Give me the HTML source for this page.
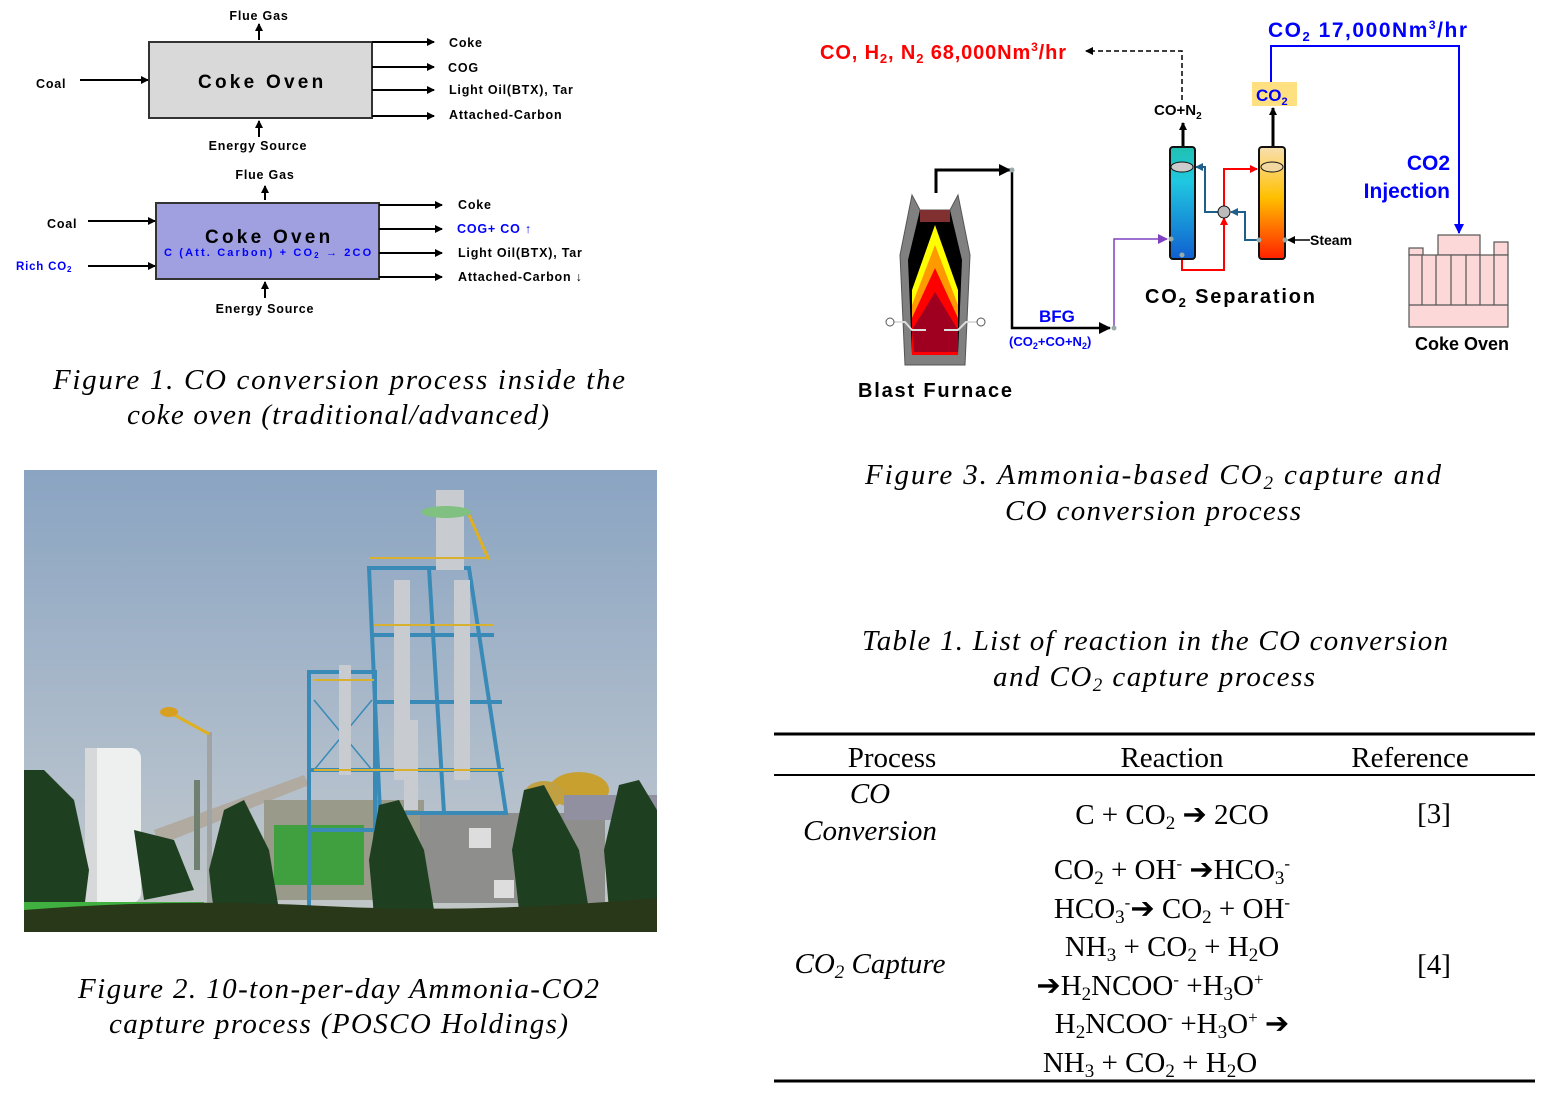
<!DOCTYPE html>
<html><head><meta charset="utf-8"><style>
html,body{margin:0;padding:0;background:#fff;}
body{width:1545px;height:1098px;position:relative;overflow:hidden;}
svg{position:absolute;left:0;top:0;}
.s{font-family:"Liberation Sans",sans-serif;font-weight:bold;}
.t{font-family:"Liberation Serif",serif;}
</style></head><body>
<svg width="1545" height="1098" viewBox="0 0 1545 1098">
<defs>
<marker id="a" markerWidth="8" markerHeight="8" refX="7" refY="4" orient="auto" markerUnits="userSpaceOnUse"><path d="M0,0 L8,4 L0,8 z" fill="#000"/></marker>
<marker id="ab" markerWidth="10" markerHeight="10" refX="9" refY="5" orient="auto" markerUnits="userSpaceOnUse"><path d="M0,0 L10,5 L0,10 z" fill="#00f"/></marker>
<marker id="ak" markerWidth="12" markerHeight="12" refX="11" refY="6" orient="auto" markerUnits="userSpaceOnUse"><path d="M0,0 L12,6 L0,12 z" fill="#000"/></marker>
<marker id="ap" markerWidth="10" markerHeight="10" refX="9" refY="5" orient="auto" markerUnits="userSpaceOnUse"><path d="M0,0 L10,5 L0,10 z" fill="#8040c0"/></marker>
<marker id="ar" markerWidth="8" markerHeight="8" refX="7" refY="4" orient="auto" markerUnits="userSpaceOnUse"><path d="M0,0 L8,4 L0,8 z" fill="#f00"/></marker>
<marker id="ad" markerWidth="8" markerHeight="8" refX="7" refY="4" orient="auto" markerUnits="userSpaceOnUse"><path d="M0,0 L8,4 L0,8 z" fill="#1f5f8b"/></marker>
<linearGradient id="c1" x1="0" y1="0" x2="0" y2="1"><stop offset="0" stop-color="#20c0b0"/><stop offset=".3" stop-color="#20c8e0"/><stop offset="1" stop-color="#1060d0"/></linearGradient>
<linearGradient id="c2" x1="0" y1="0" x2="0" y2="1"><stop offset="0" stop-color="#f8e0b0"/><stop offset=".45" stop-color="#ffc000"/><stop offset="1" stop-color="#ff2000"/></linearGradient>
<linearGradient id="sky" x1="0" y1="0" x2="0" y2="1"><stop offset="0" stop-color="#8aa4c2"/><stop offset=".7" stop-color="#b4c0cc"/><stop offset="1" stop-color="#c4c8c6"/></linearGradient>
</defs>

<!-- Figure 1 top -->
<g class="s" font-size="12.5" letter-spacing="0.8">
<rect x="149" y="42" width="223" height="76" fill="#d9d9d9" stroke="#333" stroke-width="2"/>
<text x="198" y="88" font-size="19" textLength="126" lengthAdjust="spacing">Coke Oven</text>
<text x="259" y="20" text-anchor="middle">Flue Gas</text>
<line x1="259" y1="40" x2="259" y2="24" stroke="#000" stroke-width="2" marker-end="url(#a)"/>
<text x="36" y="88">Coal</text>
<line x1="80" y1="80" x2="148" y2="80" stroke="#000" stroke-width="2" marker-end="url(#a)"/>
<line x1="372" y1="42" x2="434" y2="42" stroke="#000" stroke-width="2" marker-end="url(#a)"/>
<line x1="372" y1="67" x2="434" y2="67" stroke="#000" stroke-width="2" marker-end="url(#a)"/>
<line x1="372" y1="90" x2="434" y2="90" stroke="#000" stroke-width="2" marker-end="url(#a)"/>
<line x1="372" y1="116" x2="434" y2="116" stroke="#000" stroke-width="2" marker-end="url(#a)"/>
<text x="449" y="47">Coke</text><text x="448" y="72">COG</text>
<text x="449" y="94">Light Oil(BTX), Tar</text><text x="449" y="119">Attached-Carbon</text>
<line x1="259" y1="137" x2="259" y2="121" stroke="#000" stroke-width="2" marker-end="url(#a)"/>
<text x="258" y="150" text-anchor="middle">Energy Source</text>
</g>
<!-- Figure 1 bottom -->
<g class="s" font-size="12.5" letter-spacing="0.8">
<rect x="156" y="203" width="223" height="76" fill="#a0a0e0" stroke="#333" stroke-width="2"/>
<text x="205" y="243" font-size="19" textLength="126" lengthAdjust="spacing">Coke Oven</text>
<text x="164" y="256" font-size="11" fill="#00f" textLength="208" lengthAdjust="spacing">C (Att. Carbon) + CO<tspan font-size="8" dy="2">2</tspan><tspan dy="-2"> → 2CO</tspan></text>
<text x="265" y="179" text-anchor="middle">Flue Gas</text>
<line x1="265" y1="200" x2="265" y2="186" stroke="#000" stroke-width="2" marker-end="url(#a)"/>
<text x="47" y="228">Coal</text>
<line x1="88" y1="221" x2="155" y2="221" stroke="#000" stroke-width="2" marker-end="url(#a)"/>
<text x="16" y="270" fill="#00f" font-size="11.5">Rich CO<tspan font-size="8" dy="2">2</tspan></text>
<line x1="88" y1="266" x2="155" y2="266" stroke="#000" stroke-width="2" marker-end="url(#a)"/>
<line x1="379" y1="205" x2="442" y2="205" stroke="#000" stroke-width="2" marker-end="url(#a)"/>
<line x1="379" y1="229" x2="442" y2="229" stroke="#000" stroke-width="2" marker-end="url(#a)"/>
<line x1="379" y1="253" x2="442" y2="253" stroke="#000" stroke-width="2" marker-end="url(#a)"/>
<line x1="379" y1="277" x2="442" y2="277" stroke="#000" stroke-width="2" marker-end="url(#a)"/>
<text x="458" y="209">Coke</text><text x="457" y="233" fill="#00f">COG+ CO ↑</text>
<text x="458" y="257">Light Oil(BTX), Tar</text><text x="458" y="281">Attached-Carbon ↓</text>
<line x1="265" y1="298" x2="265" y2="282" stroke="#000" stroke-width="2" marker-end="url(#a)"/>
<text x="265" y="313" text-anchor="middle">Energy Source</text>
</g>
<g class="t" font-size="29" font-style="italic">
<text x="53" y="389" textLength="572" lengthAdjust="spacing">Figure 1.   CO conversion process inside the</text>
<text x="127" y="424" textLength="422" lengthAdjust="spacing">coke oven (traditional/advanced)</text>
<text x="78" y="998" textLength="521" lengthAdjust="spacing">Figure 2. 10-ton-per-day Ammonia-CO2</text>
<text x="109" y="1033" textLength="459" lengthAdjust="spacing">capture process (POSCO Holdings)</text>
<text x="865" y="484" textLength="576" lengthAdjust="spacing">Figure 3.   Ammonia-based CO<tspan font-size="19" dy="5">2</tspan><tspan dy="-5"> capture and</tspan></text>
<text x="1005" y="520" textLength="296" lengthAdjust="spacing">CO conversion process</text>
<text x="862" y="650" textLength="586" lengthAdjust="spacing">Table 1. List of reaction in the CO conversion</text>
<text x="993" y="686" textLength="322" lengthAdjust="spacing">and CO<tspan font-size="19" dy="5">2</tspan><tspan dy="-5"> capture process</tspan></text>
</g>

<!-- Photo -->
<svg x="24" y="470" width="633" height="462" viewBox="0 0 633 462">
<rect width="633" height="462" fill="url(#sky)"/>
<polygon points="130,360 280,305 285,315 135,375" fill="#b0aaa0"/>
<rect x="170" y="310" width="6" height="90" fill="#708070"/>
<rect x="240" y="330" width="160" height="100" fill="#9a9a8a"/>
<rect x="250" y="355" width="90" height="60" fill="#40a040"/>
<rect x="396" y="343" width="185" height="90" fill="#8e8e8c"/>
<rect x="445" y="358" width="22" height="20" fill="#ddd"/>
<rect x="470" y="410" width="20" height="18" fill="#ddd"/>
<ellipse cx="555" cy="320" rx="30" ry="18" fill="#c8a030"/>
<ellipse cx="520" cy="325" rx="20" ry="14" fill="#c0a040"/>
<rect x="540" y="325" width="93" height="25" fill="#9090a0"/>
<g stroke="#3a8ab8" stroke-width="4" fill="none">
<rect x="285" y="202" width="66" height="240"/>
<polygon points="345,98 445,98 482,343 356,343"/>
<line x1="405" y1="98" x2="420" y2="343"/>
<line x1="350" y1="165" x2="470" y2="165"/>
<line x1="352" y1="232" x2="478" y2="232"/>
<line x1="354" y1="300" x2="480" y2="300"/>
<line x1="285" y1="300" x2="351" y2="300"/>
<line x1="285" y1="360" x2="351" y2="360"/>
</g>
<g stroke="#3a8ab8" stroke-width="1.5"><line x1="290" y1="230" x2="348" y2="300"/><line x1="348" y1="230" x2="290" y2="300"/></g>
<g fill="#c8ccd0">
<rect x="412" y="20" width="28" height="80"/>
<rect x="370" y="110" width="16" height="200"/>
<rect x="430" y="110" width="16" height="200"/>
<rect x="315" y="195" width="12" height="110"/>
<rect x="380" y="250" width="14" height="90"/>
</g>
<ellipse cx="422" cy="42" rx="25" ry="6" fill="#80c080"/>
<line x1="445" y1="45" x2="465" y2="90" stroke="#e0b020" stroke-width="3"/>
<g stroke="#d8b030" stroke-width="2"><line x1="345" y1="88" x2="465" y2="88"/><line x1="290" y1="210" x2="350" y2="210"/><line x1="350" y1="155" x2="470" y2="155"/><line x1="290" y1="300" x2="480" y2="300"/></g>
<rect x="61" y="278" width="56" height="155" rx="10" fill="#eef0f0"/>
<rect x="61" y="278" width="12" height="155" fill="#d6d8da"/>
<rect x="183" y="262" width="5" height="200" fill="#a0a4a4"/>
<line x1="185" y1="264" x2="145" y2="242" stroke="#e0b020" stroke-width="3"/>
<ellipse cx="145" cy="242" rx="9" ry="5" fill="#d8a020"/>
<g fill="#1e4020">
<path d="M0,300 L20,300 L50,330 L65,400 L60,440 L0,440 z"/>
<path d="M200,340 L220,330 L245,380 L255,440 L190,445 L185,400 z"/>
<path d="M355,335 L375,330 L400,380 L410,440 L350,445 L345,390 z"/>
<path d="M500,320 L520,315 L555,380 L565,440 L495,440 L488,380 z"/>
<path d="M595,315 L615,310 L633,340 L633,440 L585,440 L580,380 z"/>
<path d="M110,360 L150,370 L170,420 L120,430 z"/>
</g>
<rect x="0" y="432" width="180" height="10" fill="#40b040"/>
<path d="M0,440 Q150,428 300,436 T633,428 L633,462 L0,462 z" fill="#283818"/>
</svg>

<!-- Figure 3 -->
<g class="s">
<text x="820" y="59" font-size="20" fill="#f00" textLength="246" lengthAdjust="spacing">CO, H<tspan font-size="13" dy="4">2</tspan><tspan dy="-4">, N</tspan><tspan font-size="13" dy="4">2</tspan><tspan dy="-4"> 68,000Nm</tspan><tspan font-size="12" dy="-8">3</tspan><tspan dy="8">/hr</tspan></text>
<text x="1268" y="37" font-size="21" fill="#00f" textLength="199" lengthAdjust="spacing">CO<tspan font-size="13" dy="4">2</tspan><tspan dy="-4"> 17,000Nm</tspan><tspan font-size="12" dy="-8">3</tspan><tspan dy="8">/hr</tspan></text>
<text x="1450" y="170" font-size="21" fill="#00f" text-anchor="end">CO2</text>
<text x="1450" y="198" font-size="21" fill="#00f" text-anchor="end">Injection</text>
<rect x="1252" y="82" width="45" height="24" fill="#ffe080"/>
<text x="1256" y="101" font-size="17" fill="#00f">CO<tspan font-size="11" dy="4">2</tspan></text>
<text x="1154" y="115" font-size="15">CO+N<tspan font-size="10" dy="4">2</tspan></text>
<text x="1310" y="245" font-size="14">Steam</text>
<text x="1145" y="303" font-size="20" textLength="170" lengthAdjust="spacing">CO<tspan font-size="13" dy="4">2</tspan><tspan dy="-4"> Separation</tspan></text>
<text x="1039" y="322" font-size="17" fill="#00f">BFG</text>
<text x="1009" y="346" font-size="13" fill="#00f">(CO<tspan font-size="9" dy="3">2</tspan><tspan dy="-3">+CO+N</tspan><tspan font-size="9" dy="3">2</tspan><tspan dy="-3">)</tspan></text>
<text x="858" y="397" font-size="20" textLength="154" lengthAdjust="spacing">Blast Furnace</text>
<text x="1462" y="350" font-size="18" text-anchor="middle">Coke Oven</text>
</g>
<polyline points="1182,100 1182,51 1086,51" fill="none" stroke="#000" stroke-width="1.5" stroke-dasharray="5,3" marker-end="url(#a)"/>
<polyline points="1271,82 1271,46 1459,46 1459,233" fill="none" stroke="#00f" stroke-width="2" marker-end="url(#ab)"/>
<line x1="1183" y1="147" x2="1183" y2="123" stroke="#000" stroke-width="3" marker-end="url(#a)"/>
<line x1="1273" y1="147" x2="1273" y2="108" stroke="#000" stroke-width="3" marker-end="url(#a)"/>
<polyline points="936,193 936,170 1010,170" fill="none" stroke="#000" stroke-width="3" marker-end="url(#ak)"/>
<polyline points="1012,170 1012,328 1110,328" fill="none" stroke="#000" stroke-width="2.5" marker-end="url(#ak)"/>
<polyline points="1114,328 1114,239 1167,239" fill="none" stroke="#8040c0" stroke-width="1.5" marker-end="url(#ap)"/>
<polyline points="1182,255 1182,270 1224,270 1224,218" fill="none" stroke="#f00" stroke-width="2" marker-end="url(#ar)"/>
<polyline points="1224,206 1224,169 1257,169" fill="none" stroke="#f00" stroke-width="2" marker-end="url(#ar)"/>
<polyline points="1258,240 1245,240 1245,212 1231,212" fill="none" stroke="#1f5f8b" stroke-width="2" marker-end="url(#ad)"/>
<polyline points="1218,212 1205,212 1205,167 1196,167" fill="none" stroke="#1f5f8b" stroke-width="2" marker-end="url(#ad)"/>
<line x1="1310" y1="240" x2="1288" y2="240" stroke="#000" stroke-width="1.5" marker-end="url(#a)"/>
<rect x="1170" y="147" width="25" height="112" rx="3" fill="url(#c1)" stroke="#111" stroke-width="2"/>
<rect x="1259" y="147" width="26" height="112" rx="3" fill="url(#c2)" stroke="#111" stroke-width="2"/>
<ellipse cx="1182" cy="167" rx="11" ry="5" fill="#ccc" stroke="#111"/>
<ellipse cx="1272" cy="167" rx="11" ry="5" fill="#f0d8a0" stroke="#111"/>
<circle cx="1224" cy="212" r="6" fill="#bbb" stroke="#111"/>
<g fill="#9aa">
<circle cx="1012" cy="170" r="2.5"/><circle cx="1114" cy="328" r="2.5"/><circle cx="1171" cy="239" r="2.5"/><circle cx="1182" cy="255" r="2.5"/><circle cx="1259" cy="240" r="2.5"/><circle cx="1285" cy="240" r="2.5"/>
</g>
<polygon points="912,195 920,210 950,210 958,195 970,255 965,365 905,365 900,255" fill="#808080" stroke="#555"/>
<polygon points="920,210 950,210 962,260 958,355 912,355 908,260" fill="#000"/>
<polygon points="920,210 950,210 950,222 920,222" fill="#803030"/>
<polygon points="935,225 958,290 958,355 912,355 912,290" fill="#ffff00"/>
<polygon points="935,245 958,305 958,355 912,355 912,305" fill="#ff9900"/>
<polygon points="935,268 958,318 958,355 912,355 912,318" fill="#ff0000"/>
<polygon points="935,292 958,330 958,352 914,352 912,330" fill="#a00020"/>
<polyline points="892,322 905,322 912,330 926,330" fill="none" stroke="#ddd" stroke-width="2"/>
<polyline points="978,322 966,322 958,330 944,330" fill="none" stroke="#ddd" stroke-width="2"/>
<circle cx="890" cy="322" r="4" fill="#fff" stroke="#555"/><circle cx="981" cy="322" r="4" fill="#fff" stroke="#555"/>
<g fill="#fdd8d8" stroke="#555" stroke-width="1.2">
<rect x="1438" y="235" width="42" height="20"/>
<rect x="1409" y="248" width="14" height="7"/>
<rect x="1494" y="242" width="14" height="13"/>
<rect x="1409" y="255" width="99" height="72"/>
<line x1="1409" y1="305" x2="1508" y2="305"/>
<line x1="1422" y1="255" x2="1422" y2="305"/><line x1="1436" y1="255" x2="1436" y2="305"/><line x1="1451" y1="255" x2="1451" y2="305"/><line x1="1466" y1="255" x2="1466" y2="305"/><line x1="1480" y1="255" x2="1480" y2="305"/><line x1="1494" y1="255" x2="1494" y2="305"/>
</g>

<!-- Table -->
<line x1="774" y1="734" x2="1535" y2="734" stroke="#000" stroke-width="3"/>
<line x1="774" y1="775" x2="1535" y2="775" stroke="#000" stroke-width="2"/>
<line x1="774" y1="1081" x2="1535" y2="1081" stroke="#000" stroke-width="3"/>
<g class="t" font-size="29" text-anchor="middle">
<text x="892" y="767">Process</text><text x="1172" y="767">Reaction</text><text x="1410" y="767">Reference</text>
<text x="870" y="803" font-style="italic">CO</text>
<text x="870" y="840" font-style="italic">Conversion</text>
<text x="1172" y="824">C  +  CO<tspan font-size="19" dy="5">2</tspan><tspan dy="-5"> ➔ 2CO</tspan></text>
<text x="1434" y="823">[3]</text>
<text x="870" y="973" font-style="italic">CO<tspan font-size="19" dy="5">2</tspan><tspan dy="-5"> Capture</tspan></text>
<text x="1434" y="974">[4]</text>
<text x="1172" y="879">CO<tspan font-size="19" dy="5">2</tspan><tspan dy="-5"> + OH</tspan><tspan font-size="17" dy="-10">-</tspan><tspan dy="10"> ➔HCO</tspan><tspan font-size="19" dy="5">3</tspan><tspan font-size="17" dy="-15">-</tspan></text>
<text x="1172" y="918">HCO<tspan font-size="19" dy="5">3</tspan><tspan font-size="17" dy="-15">-</tspan><tspan dy="10">➔ CO</tspan><tspan font-size="19" dy="5">2</tspan><tspan dy="-5"> + OH</tspan><tspan font-size="17" dy="-10">-</tspan></text>
<text x="1172" y="956">NH<tspan font-size="19" dy="5">3</tspan><tspan dy="-5"> + CO</tspan><tspan font-size="19" dy="5">2</tspan><tspan dy="-5"> + H</tspan><tspan font-size="19" dy="5">2</tspan><tspan dy="-5">O</tspan></text>
<text x="1150" y="995">➔H<tspan font-size="19" dy="5">2</tspan><tspan dy="-5">NCOO</tspan><tspan font-size="17" dy="-10">-</tspan><tspan dy="10"> +H</tspan><tspan font-size="19" dy="5">3</tspan><tspan dy="-5">O</tspan><tspan font-size="17" dy="-10">+</tspan></text>
<text x="1172" y="1033">H<tspan font-size="19" dy="5">2</tspan><tspan dy="-5">NCOO</tspan><tspan font-size="17" dy="-10">-</tspan><tspan dy="10"> +H</tspan><tspan font-size="19" dy="5">3</tspan><tspan dy="-5">O</tspan><tspan font-size="17" dy="-10">+</tspan><tspan dy="10"> ➔</tspan></text>
<text x="1150" y="1072">NH<tspan font-size="19" dy="5">3</tspan><tspan dy="-5"> + CO</tspan><tspan font-size="19" dy="5">2</tspan><tspan dy="-5"> + H</tspan><tspan font-size="19" dy="5">2</tspan><tspan dy="-5">O</tspan></text>
</g>
</svg>
</body></html>
